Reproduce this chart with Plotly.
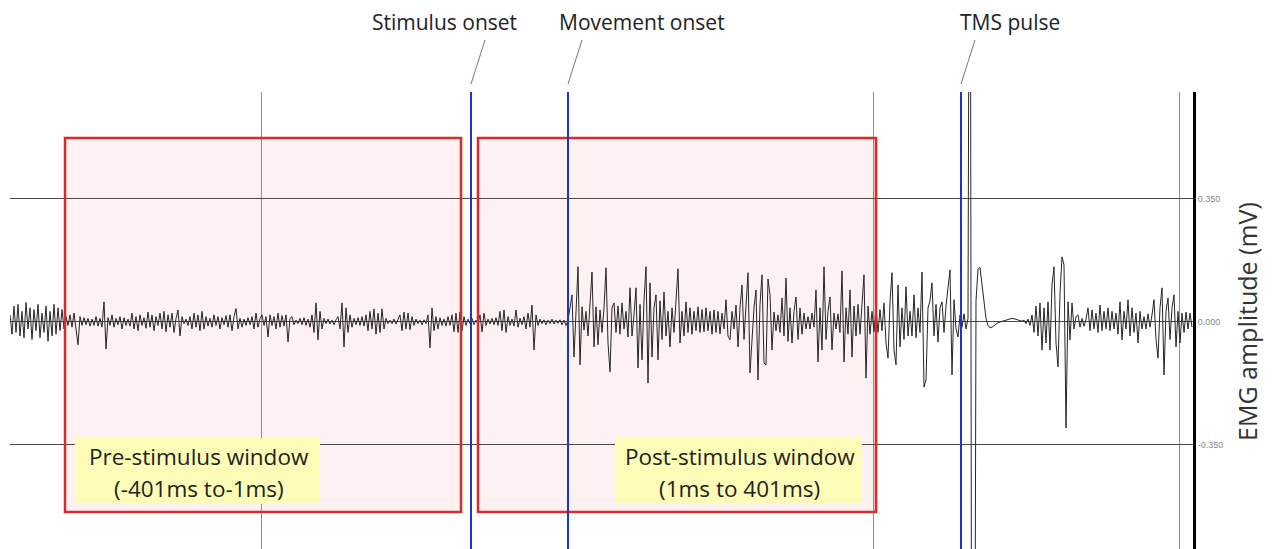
import numpy as np
import plotly.graph_objects as go

# ---------------- data (EMG trace, values in microvolts, 2 ms sampling) -------------
SAMPLE_MS = 2
seg_start_ms = [-460, -360, -260, -160, -60, 40, 140, 240, 340, 440, 540, 640]

emg_seg01 = [20, -35, 45, -30, 50, -40, 30, -45, 55, -20, 40, -50, 35, -25, 50, -45, 25, -30, 45, -55,
             30, -40, 50, -35, 40, -25, 35, -20,
             15, -10, 20, -15, 25, -20, -65, 15, -10, 12, -8, 10, -12, 8, -10, 15, -12, 10, -15, 57, -77, 12]
emg_seg02 = [-10, 20, -15, 10, -8, 15, -20, 12, -10, 8, -12, 25, -20, 15, -25, 20, -10, 12, -18, 28,
             -15, 20, -25, 15, -10, 25, -20, 30, -28, 20, -15, 25, -30, 10, 34, -40, 15, -5, 8, -10,
             15, -20, 25, -15, 20, -25, 30, -20, 15, -12]
emg_seg03 = [10, -15, 20, -10, 15, -20, 12, -8, 18, -15, 20, -25, 15, 38, -20, 10, -15, 8, -10, 12,
             -8, 15, -20, 25, -15, 10, 20, -10, 15, -43, 20, -10, 15, -20, 25, -15, 18, -12, 20, -57,
             10, 15, -8, 5, -5, 10, -8, 12, -10, 8]
emg_seg04 = [-15, 20, -30, 54, -51, 30, -20, 10, -5, 8, -6, 5, -8, 6, 15, -20, 54, -71, 40, -30,
             20, -15, 10, -8, 12, -10, 15, -12, 20, -25, 30, -20, 37, -35, 25, -30, 37, -20, 10, -5,
             5, -5, 8, -6, 5, 20, -25, 28, -20, 25]
emg_seg05 = [-22, 15, -10, 8, -5, 5, -8, 6, -5, 20, -74, 40, -25, 15, -20, 12, -10, 8, -12, 15,
             -10, 20, -28, 25, -30, 28, -25, 15, -10, 8, -5, 10, -8, 5, -6, 20, -28, 25, -10, 8,
             -6, 10, -8, 12, -10, 30, -25, 34, -30, 15]
emg_seg06 = [-10, 8, -12, 34, -15, 10, -8, 15, -20, 25, -15, 48, -80, 20, -10, 8, -5, 6, -8, 5,
             -5, 8, -6, 5, -4, 6, -8, 5, -10, 5, 40, 77, -100, 30, 157, -122, 43, -23, 30, -40,
             60, 142, -71, 43, -65, 34, -30, 40, 154, -60]
emg_seg07 = [-142, 40, 54, -30, 45, -35, 54, -20, 30, -43, 97, -40, 20, 97, -131, 50, -108, 60, 157, -174,
             111, -100, 40, 77, -108, 60, -50, 85, -40, 30, -71, 40, -30, 60, 151, -60, 30, -40, 57, -30,
             40, -35, 30, -25, 43, -30, 35, -28, 40, -25]
emg_seg08 = [30, -35, 34, -30, 30, -34, 25, -20, 63, -40, -51, 30, -20, 48, -71, 40, 105, -50, 30, 140,
             -145, -51, 40, 91, -165, 50, 134, -117, -122, 122, 77, -80, 28, -25, 20, -30, 68, -40, 125, -55,
             40, -60, 30, 71, -50, 40, -35, 25, -20, 15]
emg_seg09 = [-20, 25, -15, 91, -114, 40, -80, 157, -50, 30, 71, -80, 25, -20, 23, -30, 145, -114, 40, -35,
             91, -100, 45, -40, 50, -35, 40, 134, -160, 45, -35, 30, -28, 40, -30, 35, -25, 54, -60, -103,
             57, 140, -80, -122, 105, -71, 40, -50, 100, -40]
emg_seg10 = [30, -40, 77, -45, 40, -30, 142, -185, -165, 40, 60, 111, -40, 50, -57, 40, 57, -30, 45, 90,
             148, -151, 63, -20, -43, 20, -15, 23, -20, 10, 2000, -2000, -2000, 60, 150, 155, 100, 45, 10, -10,
             -17, -15, -10, -6, -2, 0, 2, 4, 5, 7]
emg_seg11 = [9, 10, 9, 7, 5, 3, 2, 5, -5, 8, -10, 20, -30, 45, -40, 54, -80, 40, -60, 57,
             -80, 105, 157, -60, -128, 80, 185, 162, -302, 57, -51, 54, -20, 15, 20, -15, 10, -12, 8, 40,
             -25, 34, -20, 25, -30, 48, -25, 30, -20, 40]
emg_seg12 = [-25, 30, -20, 25, -35, 57, -51, 30, -20, 63, -40, 40, -30, 25, -60, 30, -20, 15, -20, 23,
             -15, 20, 63, -50, -103, 40, 97, -151, 30, 68, -50, 40, 77, -71, 30, -60, 25, -30, 28, -20,
             25, -15]

emg_segments = [emg_seg01, emg_seg02, emg_seg03, emg_seg04, emg_seg05, emg_seg06,
                emg_seg07, emg_seg08, emg_seg09, emg_seg10, emg_seg11, emg_seg12]

event_names = ["Stimulus onset", "Movement onset", "TMS pulse"]
event_ms = [1, 98, 491]

window_label_line1 = ["Pre-stimulus window", "Post-stimulus window"]
window_label_line2 = ["(-401ms to-1ms)", "(1ms to 401ms)"]
window_ms = [(-401, -1), (1, 401)]

y_tick_vals = [-0.35, 0.0, 0.35]
y_tick_text = ["-0.350", "0.000", "0.350"]

# ---------------- build series ----------------
t_ms = np.concatenate([s + SAMPLE_MS * np.arange(len(v)) for s, v in zip(seg_start_ms, emg_segments)])
emg_mv = np.concatenate([np.asarray(v, dtype=float) for v in emg_segments]) / 1000.0

# ---------------- layout helpers (screen px -> figure coords; page body has 8px margin) -------
OFF = 8
W, H = 1273 - OFF, 549 - OFF
PL, PR, PT, PB = 10, 1193, 92, 549  # plot area in screen px


def ypap(py):
    return (PB - py) / (PB - PT)


def xms(px):
    return px - 470


fig = go.Figure()
fig.add_trace(go.Scatter(x=t_ms, y=emg_mv, mode="lines",
                         line=dict(color="#262626", width=1), hoverinfo="skip", showlegend=False))

shapes = []
box_x = [(-405, -9), (8, 406)]
box_y = (-0.5405, 0.5235)
for (x0, x1) in box_x:
    shapes.append(dict(type="rect", xref="x", yref="y", x0=x0, x1=x1, y0=box_y[0], y1=box_y[1],
                       fillcolor="#fdf1f1", line=dict(width=0), layer="below"))
    shapes.append(dict(type="rect", xref="x", yref="y", x0=x0, x1=x1, y0=box_y[0], y1=box_y[1],
                       fillcolor="rgba(0,0,0,0)", line=dict(color="#d92b2b", width=2.5), layer="above"))

for ev in event_ms:
    shapes.append(dict(type="line", xref="x", yref="paper", x0=ev, x1=ev, y0=0, y1=1,
                       line=dict(color="#1f35c8", width=2), layer="above"))
    shapes.append(dict(type="line", xref="x", yref="paper", x0=ev + 14, x1=ev, y0=ypap(40), y1=ypap(84),
                       line=dict(color="#777777", width=1), layer="above"))

# yellow label boxes
label_box_px = [(75, 320), (615, 862)]
for (x0, x1) in label_box_px:
    shapes.append(dict(type="rect", xref="x", yref="paper", x0=xms(x0), x1=xms(x1),
                       y0=ypap(504), y1=ypap(438), fillcolor="#fdfdb8", line=dict(width=0),
                       layer="above"))

annotations = []
label_px = [444, 642, 1010]
for name, px in zip(event_names, label_px):
    annotations.append(dict(text=name, x=xms(px), xref="x", y=ypap(22), yref="paper",
                            showarrow=False, xanchor="center", yanchor="middle",
                            font=dict(family="Open Sans", size=21, color="#222222")))

for (x0, x1), l1, l2 in zip(label_box_px, window_label_line1, window_label_line2):
    cx = xms((x0 + x1) / 2 + 1)
    annotations.append(dict(text=l1, x=cx, xref="x", y=ypap(456), yref="paper",
                            showarrow=False, xanchor="center", yanchor="middle",
                            font=dict(family="Open Sans", size=22.5, color="#222222")))
    annotations.append(dict(text=l2, x=cx, xref="x", y=ypap(488), yref="paper",
                            showarrow=False, xanchor="center", yanchor="middle",
                            font=dict(family="Open Sans", size=22.5, color="#222222")))

annotations.append(dict(text="EMG amplitude (mV)", x=(1247 - PL) / (PR - PL), xref="paper",
                        y=ypap(322), yref="paper", textangle=-90, showarrow=False,
                        xanchor="center", yanchor="middle",
                        font=dict(family="Open Sans", size=25, color="#333333")))

fig.update_layout(
    width=W, height=H,
    margin=dict(l=PL - OFF, r=(1273 - PR), t=PT - OFF, b=0, pad=0),
    paper_bgcolor="white", plot_bgcolor="white",
    showlegend=False,
    shapes=shapes, annotations=annotations,
    xaxis=dict(range=[xms(PL), xms(PR)], showticklabels=False, ticks="",
               showgrid=True, gridcolor="#8f8f8f", gridwidth=1,
               tick0=-209, dtick=306, zeroline=False, showline=False),
    yaxis=dict(range=[-0.646, 0.654], side="right", tickvals=y_tick_vals, ticktext=y_tick_text,
               showgrid=True, gridcolor="#4a4a4a", gridwidth=1, zeroline=False,
               showline=True, linecolor="black", linewidth=3, ticks="",
               tickfont=dict(family="Liberation Sans", size=9, color="#8a8a8a")),
)

fig.write_html("out.html")
